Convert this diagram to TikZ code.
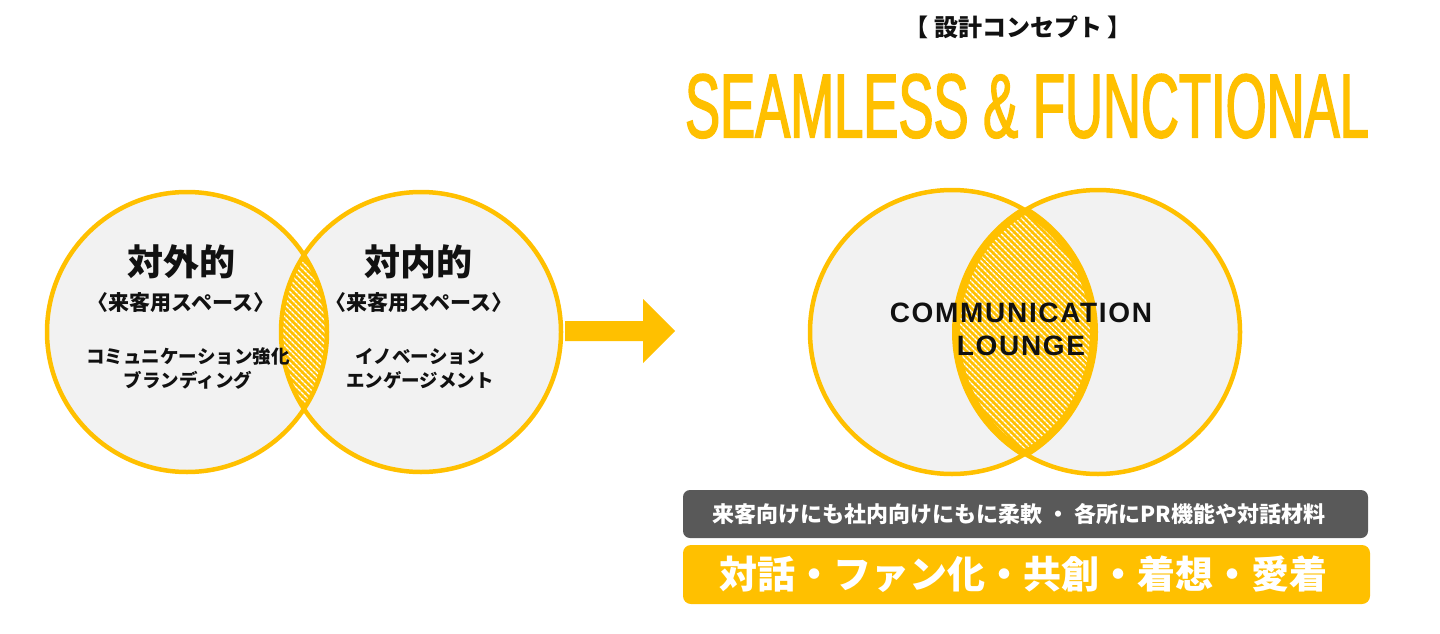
\documentclass[tikz,border=0pt]{standalone}
\usepackage{fontspec}
\setmainfont{Liberation Sans}
\newfontfamily\jp{Noto Sans CJK JP}
\newfontfamily\spaced{Liberation Sans}[LetterSpace=6]
\newfontfamily\headfont{Liberation Sans}[FakeStretch=0.578, FakeBold=1.6]
\usetikzlibrary{patterns.meta}
\definecolor{gold}{HTML}{FFC000}
\definecolor{lgray}{HTML}{F2F2F2}
\definecolor{dgray}{HTML}{595959}
\definecolor{ink}{HTML}{111111}
\begin{document}
\begin{tikzpicture}[x=1pt,y=-1pt,
  disc/.style={fill=lgray},
  ring/.style={draw=gold, line width=4.5pt},
  hatch/.style={pattern={Lines[angle=-45,distance=4pt,line width=1.4pt]}, pattern color=white},
  jpbig/.style={text=ink, inner sep=0, font=\jp\bfseries\fontsize{36}{40}\selectfont},
  jpmid/.style={text=ink, inner sep=0, font=\jp\bfseries\fontsize{21}{24}\selectfont},
  jpsm/.style={text=ink, inner sep=0, align=center, font=\jp\bfseries\fontsize{18.5}{24}\selectfont},
  headline/.style={anchor=base, inner sep=0, text=gold, font=\headfont\fontsize{91}{100}\selectfont}
]
\useasboundingbox (0,0) rectangle (1440,634);
\fill[white] (0,0) rectangle (1440,634);

% ---------- left Venn ----------
\coordinate (L1) at (187,332);
\coordinate (L2) at (421,332);
\fill[disc] (L1) circle[radius=140pt];
\fill[disc] (L2) circle[radius=140pt];
\begin{scope}
  \clip (L1) circle[radius=140pt];
  \fill[gold] (L2) circle[radius=140pt];
  \fill[hatch] (L2) circle[radius=140pt];
\end{scope}
\draw[ring] (L1) circle[radius=140pt];
\draw[ring] (L2) circle[radius=140pt];

\node[jpbig] (t1) at (181,262) {対外的};
\node[jpmid] (s1) at (181,303) {〈来客用スペース〉};
\node[jpsm] (d1) at (188,369) {コミュニケーション強化\\ブランディング};
\node[jpbig] (t2) at (418,262) {対内的};
\node[jpmid] (s2) at (419,303) {〈来客用スペース〉};
\node[jpsm] (d2) at (420,369) {イノベーション\\エンゲージメント};

% ---------- arrow ----------
\fill[gold] (565,321) -- (643,321) -- (643,299) -- (675,331) -- (643,363) -- (643,341) -- (565,341) -- cycle;

% ---------- title ----------
\node[inner sep=0, text=ink, font=\jp\bfseries\fontsize{24}{28}\selectfont] (ttl) at (1018,27) {【 設計コンセプト 】};
\node[headline] (head) at (1027,137.5) {SEAMLESS \& FUNCTIONAL};

% ---------- right Venn ----------
\coordinate (R1) at (952,332);
\coordinate (R2) at (1098,332);
\fill[disc] (R1) circle[radius=142pt];
\fill[disc] (R2) circle[radius=142pt];
\begin{scope}
  \clip (R1) circle[radius=142pt];
  \fill[gold] (R2) circle[radius=142pt];
  \fill[hatch] (R2) circle[radius=142pt];
  \draw[gold, line width=8pt] (R2) circle[radius=142pt];
\end{scope}
\begin{scope}
  \clip (R2) circle[radius=142pt];
  \draw[gold, line width=8pt] (R1) circle[radius=142pt];
\end{scope}
\draw[ring] (R1) circle[radius=142pt];
\draw[ring] (R2) circle[radius=142pt];
\node[inner sep=0, align=center, text=ink, font=\spaced\bfseries\fontsize{28}{33}\selectfont] (cl) at (1021,329) {COMMUNICATION\\LOUNGE};

% ---------- bottom bars ----------
\node[rounded corners=7pt, fill=dgray, minimum width=685pt, minimum height=48pt, inner sep=0] (gbox) at (1025.5,514) {};
\node[inner sep=0, text=white, font=\jp\bfseries\fontsize{22}{26}\selectfont] (gtxt) at (1019,514) {来客向けにも社内向けにもに柔軟 ・ 各所にPR機能や対話材料};
\node[rounded corners=8pt, fill=gold, minimum width=687pt, minimum height=59pt, inner sep=0] (ybox) at (1026.5,574.5) {};
\node[inner sep=0, text=white, font=\jp\bfseries\fontsize{38}{42}\selectfont] (ytxt) at (1023,574) {対話・ファン化・共創・着想・愛着};
\end{tikzpicture}
\end{document}
